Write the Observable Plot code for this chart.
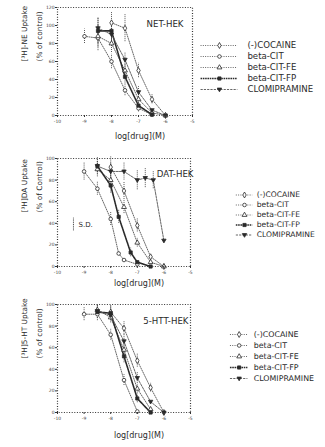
<!DOCTYPE html>
<html><head><meta charset="utf-8">
<script src="https://cdn.jsdelivr.net/npm/d3@7"></script>
<script src="https://cdn.jsdelivr.net/npm/@observablehq/plot@0.6"></script>
<style>
html,body{margin:0;padding:0;background:#fff;}
#root{position:relative;width:325px;height:447px;overflow:hidden;font-family:"DejaVu Sans",sans-serif;}
#root > div{position:absolute;}
</style></head><body><div id="root"></div>
<script>
// ---- categories & ticks ----
const series = ["(-)COCAINE", "beta-CIT", "beta-CIT-FE", "beta-CIT-FP", "CLOMIPRAMINE"];
const xTicks = [-10, -9, -8, -7, -6, -5];
const yTicksNET = [0, 20, 40, 60, 80, 100, 120];
const yTicksDAT = [0, 20, 40, 60, 80, 100];
const yTicksSERT = [0, 20, 40, 60, 80, 100];
const titles = ["NET-HEK", "DAT-HEK", "5-HTT-HEK"];
const yLabels = [["[³H]-NE Uptake", "(% of control)"], ["[³H]DA Uptake", "(% of Control)"], ["[³H]5-HT Uptake", "(% of control)"]];
const xLabel = "log[drug](M)";

// ---- values: [log dose (M), % of control uptake, S.D.] ----
const net_cocaine = [[-8, 103, 12], [-7.5, 97, 15], [-7, 50, 8], [-6.5, 18, 5], [-6, 0, 0]];
const net_betaCIT = [[-9, 88, 8], [-8.5, 86, 14], [-8, 60, 8], [-7.5, 28, 6], [-7, 8, 4], [-6.5, 1, 0]];
const net_betaCIT_FE = [[-8.5, 88, 12], [-8, 80, 10], [-7.5, 50, 8], [-7, 18, 5], [-6.5, 3, 2], [-6, 0, 0]];
const net_betaCIT_FP = [[-8.5, 94, 14], [-8, 94, 12], [-7.5, 43, 8], [-7, 11, 4], [-6.5, 1, 0]];
const net_clomipramine = [[-8.5, 97, 12], [-8, 90, 10], [-7.5, 62, 8], [-7, 26, 6], [-6.5, 6, 3], [-6, 0, 0]];

const dat_cocaine = [[-8, 92, 10], [-7.5, 70, 8], [-7, 38, 6], [-6.5, 9, 3], [-6, 0, 0]];
const dat_betaCIT = [[-9, 88, 8], [-8.5, 72, 6], [-8, 44, 6], [-7.7, 12, 3], [-7.5, 6, 2], [-7, 2, 0]];
const dat_betaCIT_FE = [[-8.5, 90, 7], [-8, 80, 6], [-7.5, 55, 6], [-7, 22, 4], [-6.5, 4, 2], [-6, 0, 0]];
const dat_betaCIT_FP = [[-8.5, 93, 8], [-8, 75, 7], [-7.7, 46, 6], [-7.25, 13, 4], [-7, 4, 2], [-6.5, 0, 0]];
const dat_clomipramine = [[-8.5, 93, 6], [-8, 88, 8], [-7.5, 88, 8], [-7, 80, 9], [-6.7, 82, 9], [-6.4, 80, 8], [-6, 24, 3]];
const dat_sdNote = [{x: -9.4, y1: 33, y2: 45, label: "S.D."}];

const sert_cocaine = [[-8, 93, 6], [-7.5, 78, 6], [-7, 48, 6], [-6.5, 23, 4], [-6, 0, 0]];
const sert_betaCIT = [[-9, 91, 6], [-8.5, 91, 6], [-8, 72, 5], [-7.5, 30, 5], [-7, 1, 0]];
const sert_betaCIT_FE = [[-8.5, 95, 5], [-8, 88, 5], [-7.5, 58, 6], [-7, 22, 4], [-6.5, 3, 1]];
const sert_betaCIT_FP = [[-8.5, 93, 6], [-8, 92, 6], [-7.5, 52, 6], [-7, 13, 4], [-6.5, 0, 0]];
const sert_clomipramine = [[-8.5, 94, 5], [-8, 90, 5], [-7.5, 66, 6], [-7, 32, 5], [-6.5, 10, 3], [-6, 0, 0]];

// ---- styles ----
const ink = "#2a2a2a";
const lineInk = "#555";
const triDown = {draw(ctx, size) { const s = Math.sqrt(size) * 0.6; ctx.moveTo(-s * 1.15, -s * 0.75); ctx.lineTo(s * 1.15, -s * 0.75); ctx.lineTo(0, s * 1.2); ctx.closePath(); }};
const styles = {
  "(-)COCAINE": {symbol: "diamond", fill: "white", dash: "1,1.3", width: 0.9, stroke: lineInk},
  "beta-CIT": {symbol: "circle", fill: "white", dash: "1,1.3", width: 0.9, stroke: lineInk},
  "beta-CIT-FE": {symbol: "triangle", fill: "white", dash: "1,1.3", width: 0.9, stroke: lineInk},
  "beta-CIT-FP": {symbol: "square", fill: ink, dash: "1.6,0.7", width: 1.6, stroke: ink},
  "CLOMIPRAMINE": {symbol: triDown, fill: ink, dash: "2.2,1.1", width: 0.9, stroke: lineInk}
};

const panels = [
  {data: [net_cocaine, net_betaCIT, net_betaCIT_FE, net_betaCIT_FP, net_clomipramine], yTicks: yTicksNET,
   top: 0, height: 147, mt: 7, mb: 32, mr: 133, titleDx: -9, titleDy: 13, xlabDy: 23,
   legend: {left: 198, top: 37, width: 127, height: 60, fs: 8.6, x1: 0.02, x2: 0.31, xm: 0.165, xt: 0.385}},
  {data: [dat_cocaine, dat_betaCIT, dat_betaCIT_FE, dat_betaCIT_FP, dat_clomipramine], yTicks: yTicksDAT,
   top: 148, height: 147, mt: 10, mb: 29, mr: 135, titleDx: 3, titleDy: 12, xlabDy: 19, note: dat_sdNote,
   legend: {left: 234, top: 186, width: 91, height: 56, fs: 7.6, x1: 0.02, x2: 0.2, xm: 0.11, xt: 0.245}},
  {data: [sert_cocaine, sert_betaCIT, sert_betaCIT_FE, sert_betaCIT_FP, sert_clomipramine], yTicks: yTicksSERT,
   top: 295, height: 152, mt: 9, mb: 35, mr: 135, titleDx: -2, titleDy: 13, xlabDy: 25,
   legend: {left: 228, top: 327, width: 97, height: 57, fs: 7.9, x1: 0.02, x2: 0.2, xm: 0.11, xt: 0.26}}
];

const root = document.getElementById("root");

panels.forEach((p, pi) => {
  const marks = [];
  p.data.forEach((rows, i) => {
    const st = styles[series[i]];
    const pts = rows.map(([x, y, sd]) => ({x, y, sd}));
    marks.push(Plot.ruleX(pts.filter(d => d.sd > 3), {x: "x", y1: d => Math.max(0, d.y - d.sd), y2: d => d.y + d.sd, stroke: "#444", strokeWidth: 0.9, strokeDasharray: "1,1"}));
    marks.push(Plot.line(pts, {x: "x", y: "y", stroke: st.stroke, strokeWidth: st.width, strokeDasharray: st.dash}));
  });
  p.data.forEach((rows, i) => {
    const st = styles[series[i]];
    const pts = rows.map(([x, y, sd]) => ({x, y, sd}));
    marks.push(Plot.dot(pts, {x: "x", y: "y", symbol: st.symbol, fill: st.fill, stroke: ink, r: 1.8, strokeWidth: 0.8}));
  });
  if (p.note) {
    marks.push(Plot.ruleX(p.note, {x: "x", y1: "y1", y2: "y2", stroke: "#333", strokeWidth: 0.9, strokeDasharray: "1,0.8"}));
    marks.push(Plot.text(p.note, {x: "x", y: d => (d.y1 + d.y2) / 2, text: "label", dx: 5, textAnchor: "start", fontSize: 7, fill: ink}));
  }
  marks.push(
    Plot.frame({stroke: "#333", strokeDasharray: "1,1.6", strokeWidth: 1.2}),
    Plot.axisX({ticks: xTicks, tickFormat: d => String(d), tickSize: 2, fontSize: 4.5, tickPadding: 2, label: null, stroke: "#333", fill: "#444"}),
    Plot.axisY({ticks: p.yTicks, tickFormat: d => String(d), tickSize: 2, fontSize: 4.5, tickPadding: 1, label: null, stroke: "#333", fill: "#444"}),
    Plot.text([titles[pi]], {frameAnchor: "top-right", dx: p.titleDx, dy: p.titleDy, textAnchor: "end", fontSize: 8.6, fill: ink}),
    Plot.text([xLabel], {frameAnchor: "bottom", dx: 15, dy: p.xlabDy, fontSize: 8, fill: ink}),
    Plot.text([yLabels[pi].join("\n")], {frameAnchor: "left", dx: -28, rotate: -90, fontSize: 7.4, lineHeight: 2, fill: ink})
  );
  const chart = Plot.plot({
    width: 325, height: p.height,
    marginTop: p.mt, marginBottom: p.mb, marginLeft: 57, marginRight: p.mr,
    x: {domain: [-10, -5], axis: null},
    y: {domain: [0, d3.max(p.yTicks)], axis: null},
    style: {fontFamily: "DejaVu Sans, sans-serif", color: "#222", background: "transparent"},
    marks
  });
  const wrap = document.createElement("div");
  wrap.style.left = "0px"; wrap.style.top = p.top + "px";
  wrap.appendChild(chart);
  root.appendChild(wrap);

  // legend
  const L = p.legend;
  const lmarks = [];
  series.forEach(name => {
    const st = styles[name];
    lmarks.push(Plot.ruleY([name], {y: d => d, x1: L.x1, x2: L.x2, stroke: st.stroke, strokeWidth: st.width, strokeDasharray: st.dash}));
    lmarks.push(Plot.dot([name], {y: d => d, x: L.xm, symbol: st.symbol, fill: st.fill, stroke: ink, r: 1.8, strokeWidth: 0.8}));
    lmarks.push(Plot.text([name], {y: d => d, x: L.xt, text: d => d, textAnchor: "start", fontSize: L.fs, fill: ink}));
  });
  const legend = Plot.plot({
    width: L.width, height: L.height, margin: 0,
    x: {domain: [0, 1], axis: null},
    y: {domain: series, type: "band", axis: null},
    style: {fontFamily: "DejaVu Sans, sans-serif", background: "transparent", overflow: "visible"},
    marks: lmarks
  });
  const lw = document.createElement("div");
  lw.style.left = L.left + "px"; lw.style.top = L.top + "px";
  lw.appendChild(legend);
  root.appendChild(lw);
});
</script></body></html>
